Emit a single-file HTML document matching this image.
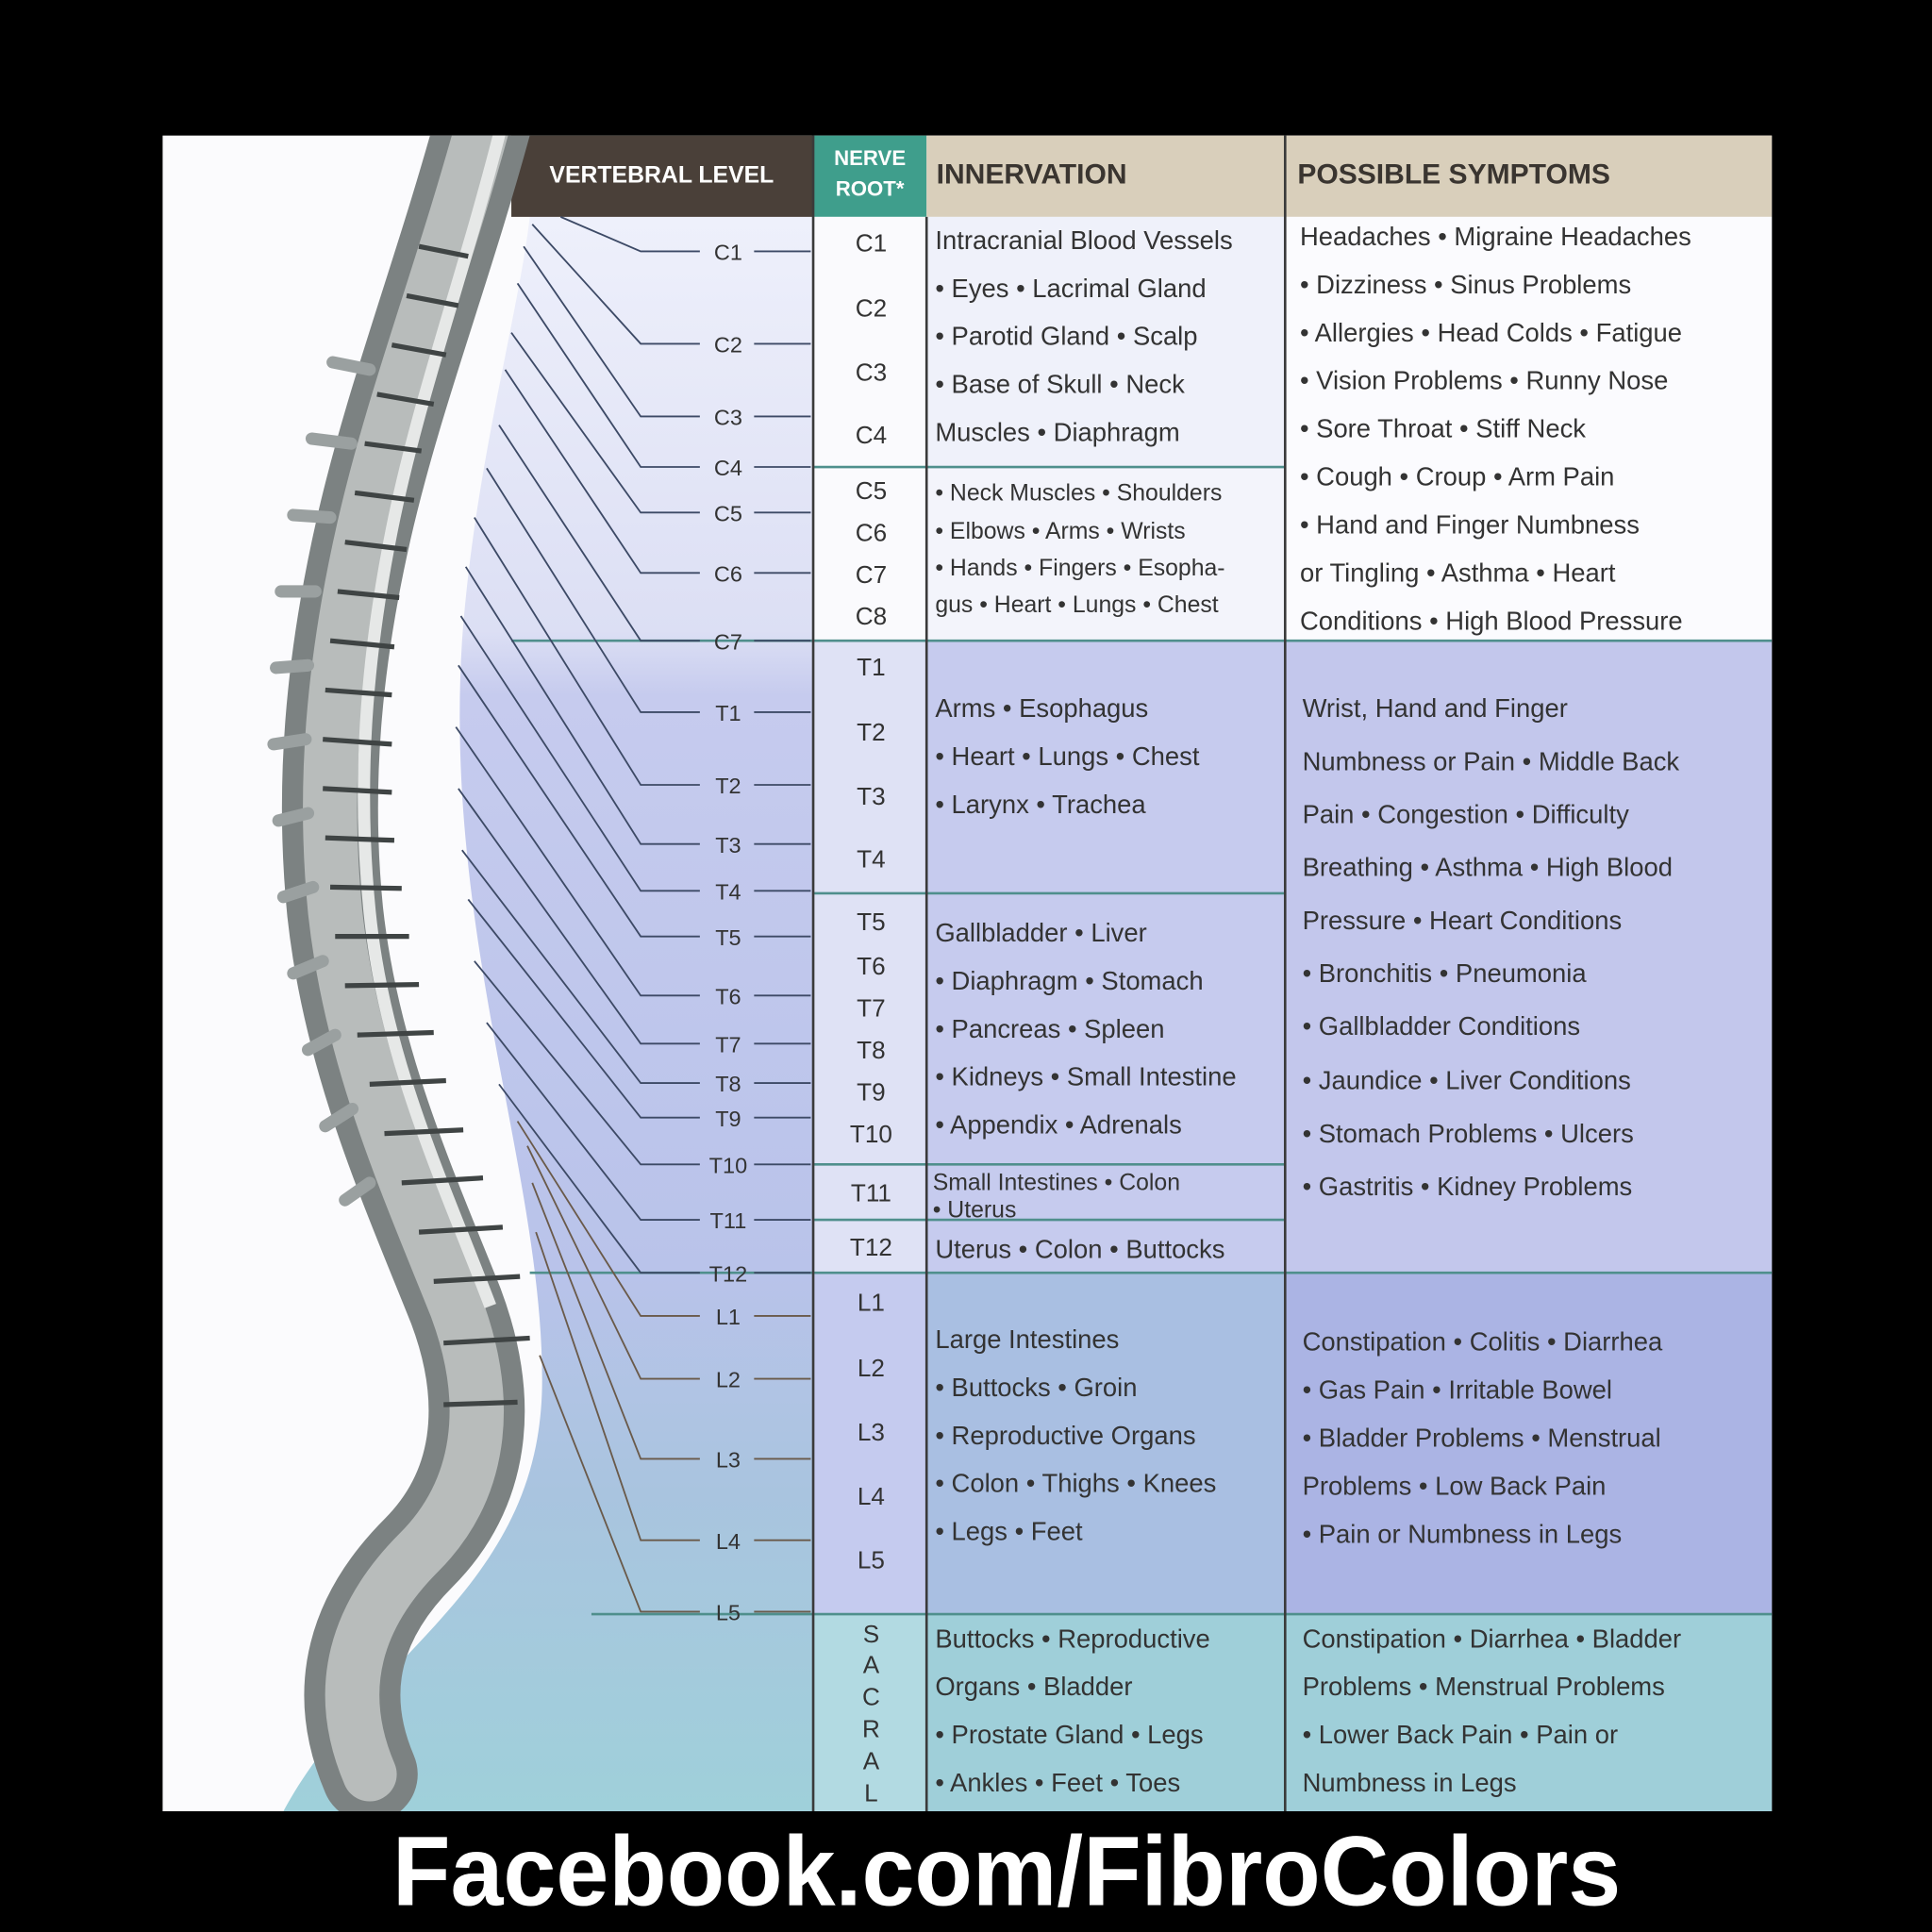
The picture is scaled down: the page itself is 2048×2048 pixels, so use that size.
<!DOCTYPE html>
<html><head><meta charset="utf-8"><style>html,body{margin:0;padding:0;background:#000}svg{display:block}</style></head>
<body>
<svg width="2048" height="2048" viewBox="0 0 1568 1568" xmlns="http://www.w3.org/2000/svg" font-family="Liberation Sans, sans-serif">
<defs>
<linearGradient id="lg" x1="0" y1="176" x2="0" y2="1470" gradientUnits="userSpaceOnUse">
<stop offset="0" stop-color="#eef0fb"/><stop offset="0.26" stop-color="#dcdff4"/><stop offset="0.3" stop-color="#c6cbee"/><stop offset="0.66" stop-color="#b9c3ea"/><stop offset="0.8" stop-color="#a9c4df"/><stop offset="1" stop-color="#9fd0da"/>
</linearGradient>
<clipPath id="chart"><rect x="132" y="110" width="1306" height="1360"/></clipPath>
</defs>
<rect width="1568" height="1568" fill="#000"/>
<rect x="132" y="110" width="1306" height="1360" fill="#fbfbfd"/>
<path d="M430 176 L660 176 L660 1470 L230 1470 C300 1340 440 1290 440 1120 C440 950 360 760 375 520 C385 380 420 260 430 176 Z" fill="url(#lg)"/>
<rect x="415" y="110" width="245" height="66" fill="#4a4039"/>
<rect x="660" y="110" width="92" height="66" fill="#3f9e8c"/>
<rect x="752" y="110" width="686" height="66" fill="#d9cfbb"/>
<text x="537" y="148" fill="#fff" font-size="19" font-weight="bold" text-anchor="middle">VERTEBRAL LEVEL</text>
<text x="706" y="134" fill="#fff" font-size="17" font-weight="bold" text-anchor="middle">NERVE</text>
<text x="706" y="159" fill="#fff" font-size="17" font-weight="bold" text-anchor="middle">ROOT*</text>
<text x="760" y="149" fill="#3a3530" font-size="23" font-weight="bold">INNERVATION</text>
<text x="1053" y="149" fill="#3a3530" font-size="23" font-weight="bold">POSSIBLE SYMPTOMS</text>
<rect x="660" y="176" width="92" height="344" fill="#fafafd"/>
<rect x="660" y="520" width="92" height="513" fill="#dfe2f5"/>
<rect x="660" y="1033" width="92" height="277" fill="#c5cbef"/>
<rect x="660" y="1310" width="92" height="160" fill="#b2dae2"/>
<rect x="752" y="176" width="291" height="203" fill="#eff1fa"/>
<rect x="752" y="379" width="291" height="141" fill="#f3f4fb"/>
<rect x="752" y="520" width="291" height="513" fill="#c6cbee"/>
<rect x="752" y="1033" width="291" height="277" fill="#a9bfe2"/>
<rect x="752" y="1310" width="291" height="160" fill="#9fcfd9"/>
<rect x="1043" y="176" width="395" height="344" fill="#fbfbfe"/>
<rect x="1043" y="520" width="395" height="513" fill="#c3c7ec"/>
<rect x="1043" y="1033" width="395" height="277" fill="#abb4e4"/>
<rect x="1043" y="1310" width="395" height="160" fill="#9fcfd9"/>
<g stroke="#4f8f8c" stroke-width="2">
<line x1="660" y1="379" x2="1043" y2="379"/>
<line x1="415" y1="520" x2="1438" y2="520"/>
<line x1="660" y1="725" x2="1043" y2="725"/>
<line x1="660" y1="945" x2="1043" y2="945"/>
<line x1="660" y1="990" x2="1043" y2="990"/>
<line x1="430" y1="1033" x2="1438" y2="1033"/>
<line x1="480" y1="1310" x2="1438" y2="1310"/>
</g>
<g stroke="#3a3a3a" stroke-width="2">
<line x1="660" y1="110" x2="660" y2="1470"/>
<line x1="752" y1="176" x2="752" y2="1470"/>
<line x1="1043" y1="110" x2="1043" y2="1470"/>
</g>
<g clip-path="url(#chart)">
<path d="M395 90 C360 220 320 320 295 430 C270 540 262 640 272 740 C285 860 330 960 370 1060 C400 1140 390 1210 340 1260 C290 1310 270 1370 300 1440" fill="none" stroke="#7c8282" stroke-width="78" stroke-linecap="round"/>
<path d="M395 90 C360 220 320 320 295 430 C270 540 262 640 272 740 C285 860 330 960 370 1060 C400 1140 390 1210 340 1260 C290 1310 270 1370 300 1440" fill="none" stroke="#b8bcbb" stroke-width="44" stroke-linecap="round"/>
<path d="M410 90 C378 220 340 320 318 430 C296 540 290 640 300 740 C312 860 360 960 398 1060" fill="none" stroke="#e6e8e7" stroke-width="10"/>
<g stroke="#3f4444" stroke-width="4" fill="none">
<path d="M340 200 l40 8 M330 240 l42 8 M318 280 l44 8 M306 320 l46 8 M296 360 l46 6 M288 400 l48 6 M280 440 l50 6 M274 480 l50 5 M268 520 l52 5 M264 560 l54 4 M262 600 l56 4 M262 640 l56 3 M264 680 l56 2 M268 720 l58 1 M272 760 l60 0 M280 800 l60 -1 M290 840 l62 -2 M300 880 l62 -3 M312 920 l64 -3 M326 960 l66 -4 M340 1000 l68 -4 M352 1040 l70 -4 M360 1090 l70 -4 M360 1140 l60 -2"/>
</g>
<g stroke="#9aa0a0" stroke-width="10" stroke-linecap="round">
<path d="M300 300 l-30 -6 M285 360 l-32 -4 M268 420 l-30 -2 M256 480 l-28 0 M250 540 l-26 2 M248 600 l-26 4 M250 660 l-24 6 M254 720 l-24 8 M262 780 l-24 10 M272 840 l-22 12 M286 900 l-22 14 M300 960 l-20 14"/>
</g>
</g>
<g stroke="#3d4a66" stroke-width="1.4" fill="none">
<path d="M455 176 L520 204 H568 M612 204 H658"/>
<path d="M432 182 L520 279 H568 M612 279 H658"/>
<path d="M425 200 L520 338 H568 M612 338 H658"/>
<path d="M420 230 L520 379 H568 M612 379 H658"/>
<path d="M415 270 L520 416 H568 M612 416 H658"/>
<path d="M410 300 L520 465 H568 M612 465 H658"/>
<path d="M405 345 L520 520 H568 M612 520 H658"/>
<path d="M395 380 L520 578 H568 M612 578 H658"/>
<path d="M385 420 L520 637 H568 M612 637 H658"/>
<path d="M378 460 L520 685 H568 M612 685 H658"/>
<path d="M374 500 L520 723 H568 M612 723 H658"/>
<path d="M372 540 L520 760 H568 M612 760 H658"/>
<path d="M370 590 L520 808 H568 M612 808 H658"/>
<path d="M372 640 L520 847 H568 M612 847 H658"/>
<path d="M375 690 L520 879 H568 M612 879 H658"/>
<path d="M380 730 L520 907 H568 M612 907 H658"/>
<path d="M385 780 L520 945 H568 M612 945 H658"/>
<path d="M395 830 L520 990 H568 M612 990 H658"/>
<path d="M405 880 L520 1033 H568 M612 1033 H658"/>
</g>
<g stroke="#6a5a4a" stroke-width="1.4" fill="none">
<path d="M420 910 L520 1068 H568 M612 1068 H658"/>
<path d="M428 930 L520 1119 H568 M612 1119 H658"/>
<path d="M432 960 L520 1184 H568 M612 1184 H658"/>
<path d="M435 1000 L520 1250 H568 M612 1250 H658"/>
<path d="M438 1100 L520 1308 H568 M612 1308 H658"/>
</g>
<g font-size="18" fill="#333" text-anchor="middle">
<text x="591" y="211">C1</text><text x="591" y="286">C2</text><text x="591" y="345">C3</text><text x="591" y="386">C4</text><text x="591" y="423">C5</text><text x="591" y="472">C6</text><text x="591" y="527">C7</text>
<text x="591" y="585">T1</text><text x="591" y="644">T2</text><text x="591" y="692">T3</text><text x="591" y="730">T4</text><text x="591" y="767">T5</text><text x="591" y="815">T6</text><text x="591" y="854">T7</text><text x="591" y="886">T8</text><text x="591" y="914">T9</text><text x="591" y="952">T10</text><text x="591" y="997">T11</text><text x="591" y="1040">T12</text>
<text x="591" y="1075">L1</text><text x="591" y="1126">L2</text><text x="591" y="1191">L3</text><text x="591" y="1257">L4</text><text x="591" y="1315">L5</text>
</g>
<g font-size="20" fill="#333" text-anchor="middle">
<text x="707" y="204">C1</text><text x="707" y="257">C2</text><text x="707" y="309">C3</text><text x="707" y="360">C4</text>
<text x="707" y="405">C5</text><text x="707" y="439">C6</text><text x="707" y="473">C7</text><text x="707" y="507">C8</text>
<text x="707" y="548">T1</text><text x="707" y="601">T2</text><text x="707" y="653">T3</text><text x="707" y="704">T4</text>
<text x="707" y="755">T5</text><text x="707" y="791">T6</text><text x="707" y="825">T7</text><text x="707" y="859">T8</text><text x="707" y="893">T9</text><text x="707" y="927">T10</text>
<text x="707" y="975">T11</text><text x="707" y="1019">T12</text>
<text x="707" y="1064">L1</text><text x="707" y="1117">L2</text><text x="707" y="1169">L3</text><text x="707" y="1221">L4</text><text x="707" y="1273">L5</text>
<text x="707" y="1333">S</text><text x="707" y="1358">A</text><text x="707" y="1384">C</text><text x="707" y="1410">R</text><text x="707" y="1436">A</text><text x="707" y="1462">L</text>
</g>
<g font-size="21" fill="#333">
<text x="759" y="202">Intracranial Blood Vessels</text>
<text x="759" y="241">• Eyes • Lacrimal Gland</text>
<text x="759" y="280">• Parotid Gland • Scalp</text>
<text x="759" y="319">• Base of Skull • Neck</text>
<text x="759" y="358">Muscles • Diaphragm</text>
<text x="759" y="406" font-size="19">• Neck Muscles • Shoulders</text>
<text x="759" y="437" font-size="19">• Elbows • Arms • Wrists</text>
<text x="759" y="467" font-size="19">• Hands • Fingers • Esopha-</text>
<text x="759" y="497" font-size="19">gus • Heart • Lungs • Chest</text>
<text x="759" y="582">Arms • Esophagus</text>
<text x="759" y="621">• Heart • Lungs • Chest</text>
<text x="759" y="660">• Larynx • Trachea</text>
<text x="759" y="764">Gallbladder • Liver</text>
<text x="759" y="803">• Diaphragm • Stomach</text>
<text x="759" y="842">• Pancreas • Spleen</text>
<text x="759" y="881">• Kidneys • Small Intestine</text>
<text x="759" y="920">• Appendix • Adrenals</text>
<text x="757" y="966" font-size="19">Small Intestines • Colon</text>
<text x="757" y="988" font-size="19">• Uterus</text>
<text x="759" y="1021">Uterus • Colon • Buttocks</text>
<text x="759" y="1094">Large Intestines</text>
<text x="759" y="1133">• Buttocks • Groin</text>
<text x="759" y="1172">• Reproductive Organs</text>
<text x="759" y="1211">• Colon • Thighs • Knees</text>
<text x="759" y="1250">• Legs • Feet</text>
<text x="759" y="1337">Buttocks • Reproductive</text>
<text x="759" y="1376">Organs • Bladder</text>
<text x="759" y="1415">• Prostate Gland • Legs</text>
<text x="759" y="1454">• Ankles • Feet • Toes</text>
</g>
<g font-size="21" fill="#333">
<text x="1055" y="199">Headaches • Migraine Headaches</text>
<text x="1055" y="238">• Dizziness • Sinus Problems</text>
<text x="1055" y="277">• Allergies • Head Colds • Fatigue</text>
<text x="1055" y="316">• Vision Problems • Runny Nose</text>
<text x="1055" y="355">• Sore Throat • Stiff Neck</text>
<text x="1055" y="394">• Cough • Croup • Arm Pain</text>
<text x="1055" y="433">• Hand and Finger Numbness</text>
<text x="1055" y="472">or Tingling • Asthma • Heart</text>
<text x="1055" y="511">Conditions • High Blood Pressure</text>
<text x="1057" y="582">Wrist, Hand and Finger</text>
<text x="1057" y="625">Numbness or Pain • Middle Back</text>
<text x="1057" y="668">Pain • Congestion • Difficulty</text>
<text x="1057" y="711">Breathing • Asthma • High Blood</text>
<text x="1057" y="754">Pressure • Heart Conditions</text>
<text x="1057" y="797">• Bronchitis • Pneumonia</text>
<text x="1057" y="840">• Gallbladder Conditions</text>
<text x="1057" y="884">• Jaundice • Liver Conditions</text>
<text x="1057" y="927">• Stomach Problems • Ulcers</text>
<text x="1057" y="970">• Gastritis • Kidney Problems</text>
<text x="1057" y="1096">Constipation • Colitis • Diarrhea</text>
<text x="1057" y="1135">• Gas Pain • Irritable Bowel</text>
<text x="1057" y="1174">• Bladder Problems • Menstrual</text>
<text x="1057" y="1213">Problems • Low Back Pain</text>
<text x="1057" y="1252">• Pain or Numbness in Legs</text>
<text x="1057" y="1337">Constipation • Diarrhea • Bladder</text>
<text x="1057" y="1376">Problems • Menstrual Problems</text>
<text x="1057" y="1415">• Lower Back Pain • Pain or</text>
<text x="1057" y="1454">Numbness in Legs</text>
</g>
<text x="817" y="1546" fill="#fff" font-size="80" font-weight="bold" text-anchor="middle" textLength="997" lengthAdjust="spacingAndGlyphs">Facebook.com/FibroColors</text>
</svg>
</body></html>
